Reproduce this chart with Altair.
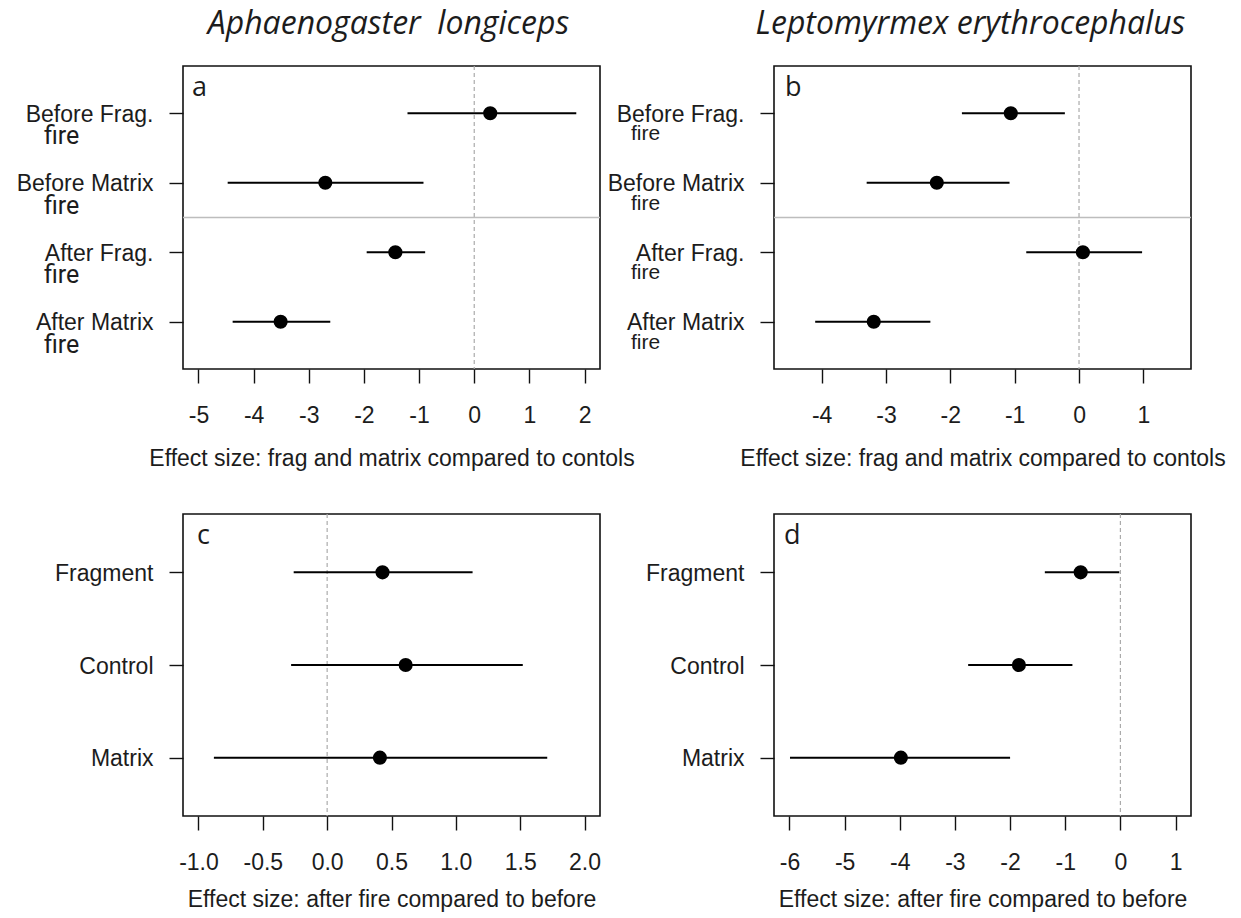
import altair as alt
import pandas as pd

# Rows for the before/after comparisons (panels a, b)
rows_ab = ["Before Frag.", "Before Matrix", "After Frag.", "After Matrix"]
# Rows for the after-vs-before comparisons (panels c, d)
rows_cd = ["Fragment", "Control", "Matrix"]

# Aphaenogaster longiceps: effect size vs controls
a_est = [0.29, -2.70, -1.43, -3.51]
a_lo = [-1.21, -4.47, -1.95, -4.38]
a_hi = [1.85, -0.92, -0.89, -2.61]

# Leptomyrmex erythrocephalus: effect size vs controls
b_est = [-1.06, -2.21, 0.06, -3.19]
b_lo = [-1.82, -3.30, -0.82, -4.10]
b_hi = [-0.22, -1.08, 0.98, -2.31]

# Aphaenogaster longiceps: after fire vs before
c_est = [0.43, 0.61, 0.41]
c_lo = [-0.26, -0.28, -0.88]
c_hi = [1.13, 1.52, 1.71]

# Leptomyrmex erythrocephalus: after fire vs before
d_est = [-0.72, -1.84, -3.98]
d_lo = [-1.37, -2.76, -5.99]
d_hi = [-0.02, -0.87, -2.00]

# Axis ticks
a_ticks = [-5, -4, -3, -2, -1, 0, 1, 2]
b_ticks = [-4, -3, -2, -1, 0, 1]
c_ticks = [-1.0, -0.5, 0.0, 0.5, 1.0, 1.5, 2.0]
d_ticks = [-6, -5, -4, -3, -2, -1, 0, 1]

species = ["Aphaenogaster\u00a0 longiceps", "Leptomyrmex erythrocephalus"]
xtitle_top = "Effect size: frag and matrix compared to contols"
xtitle_bottom = "Effect size: after fire compared to before"
second_line = "fire"

LABEL_FONT = "Liberation Sans"
TEXT = "#1c1c1c"
W = 417


def panel(rows, est, lo, hi, xdom, ticks, fmt, ydom, h, letter, letter_x,
          xtitle, title_y, title=None, title_dx=0, separator=False, fire=None):
    df = pd.DataFrame({
        "idx": list(range(1, len(rows) + 1)),
        "row": rows, "est": est, "lo": lo, "hi": hi,
    })
    names = "[" + ",".join("'" + r + "'" for r in rows) + "]"
    xscale = alt.Scale(domain=xdom, nice=False, zero=False)
    yscale = alt.Scale(domain=ydom, nice=False, zero=False, reverse=True)
    xaxis = alt.Axis(
        values=ticks, format=fmt, labelExpr="replace(datum.label, '\u2212', '-')",
        title=xtitle, titleFont=LABEL_FONT, titleFontSize=23, titleFontWeight="normal",
        titleColor=TEXT, titleBaseline="alphabetic", titleY=title_y,
        labelFont=LABEL_FONT, labelFontSize=23, labelColor=TEXT, labelPadding=21,
        tickSize=14, tickColor="#111", tickWidth=1.4, domain=False, grid=False,
        labelFlush=False, labelOverlap=False,
    )
    yaxis = alt.Axis(
        values=list(range(1, len(rows) + 1)), labelExpr=names + "[datum.value - 1]",
        title=None, labelFont=LABEL_FONT, labelFontSize=23, labelColor=TEXT,
        labelPadding=16, labelOffset=1, tickSize=14, tickColor="#111", tickWidth=1.4,
        domain=False, grid=False, labelFlush=False, labelOverlap=False,
    )
    base = alt.Chart(df)
    bars = base.mark_rule(color="#000", strokeWidth=2).encode(
        x=alt.X("lo:Q", scale=xscale, axis=xaxis),
        x2="hi:Q",
        y=alt.Y("idx:Q", scale=yscale, axis=yaxis),
    )
    dots = base.mark_circle(size=200, color="#000", opacity=1).encode(
        x=alt.X("est:Q", scale=xscale),
        y=alt.Y("idx:Q", scale=yscale),
    )
    zero = alt.Chart(pd.DataFrame({"z": [0]})).mark_rule(
        color="#ababab", strokeWidth=1.2, strokeDash=[4, 3]
    ).encode(x=alt.X("z:Q", scale=xscale))
    lab = alt.Chart(pd.DataFrame({"t": [letter]})).mark_text(
        align="left", baseline="alphabetic", font="Open Sans", fontSize=27, color=TEXT
    ).encode(x=alt.value(letter_x), y=alt.value(30), text="t:N")
    layers = [zero]
    if separator:
        sep = alt.Chart(pd.DataFrame({"s": [(len(rows) + 1) / 2]})).mark_rule(
            color="#bdbdbd", strokeWidth=1.5
        ).encode(y=alt.Y("s:Q", scale=yscale))
        layers.append(sep)
    layers += [bars, dots, lab]
    if fire is not None:
        fx, fdy, ffont, fsize = fire
        fire_txt = base.mark_text(
            align="left", baseline="alphabetic", dy=fdy, font=ffont,
            fontSize=fsize, color=TEXT
        ).encode(x=alt.value(fx), y=alt.Y("idx:Q", scale=yscale),
                 text=alt.value(second_line))
        layers.append(fire_txt)
    if title:
        head = alt.Chart(pd.DataFrame({"t": [title]})).mark_text(
            align="center", baseline="alphabetic", font="Open Sans",
            fontStyle="italic", fontSize=32, color=TEXT, dx=title_dx
        ).encode(x=alt.value(W / 2), y=alt.value(-32), text="t:N")
        layers.append(head)
    return alt.layer(*layers).properties(width=W, height=h)


pa = panel(rows_ab, a_est, a_lo, a_hi, [-5.28, 2.28], a_ticks, "d",
           [0.32, 4.68], 303, "a", 9, xtitle_top, 96, species[0], -3, True,
           (-139, 31, "Roboto", 25))
pb = panel(rows_ab, b_est, b_lo, b_hi, [-4.74, 1.74], b_ticks, "d",
           [0.32, 4.68], 303, "b", 11, xtitle_top, 96, species[1], -12, True,
           (-143, 27, LABEL_FONT, 21))
pc = panel(rows_cd, c_est, c_lo, c_hi, [-1.12, 2.12], c_ticks, ".1f",
           [0.37, 3.63], 302, "c", 14, xtitle_bottom, 90)
pd_ = panel(rows_cd, d_est, d_lo, d_hi, [-6.28, 1.28], d_ticks, "d",
            [0.37, 3.63], 302, "d", 10, xtitle_bottom, 90)

chart = alt.concat(
    pa, pb, pc, pd_, columns=2,
    spacing=alt.RowColnumber(row=145, column=174), bounds="flush",
).properties(
    padding={"left": 15, "top": 7, "right": 5, "bottom": 5},
    background="white",
).configure_view(stroke="#111", strokeWidth=1.6)

chart.save("out.html", embed_options={"renderer": "svg", "actions": False})
